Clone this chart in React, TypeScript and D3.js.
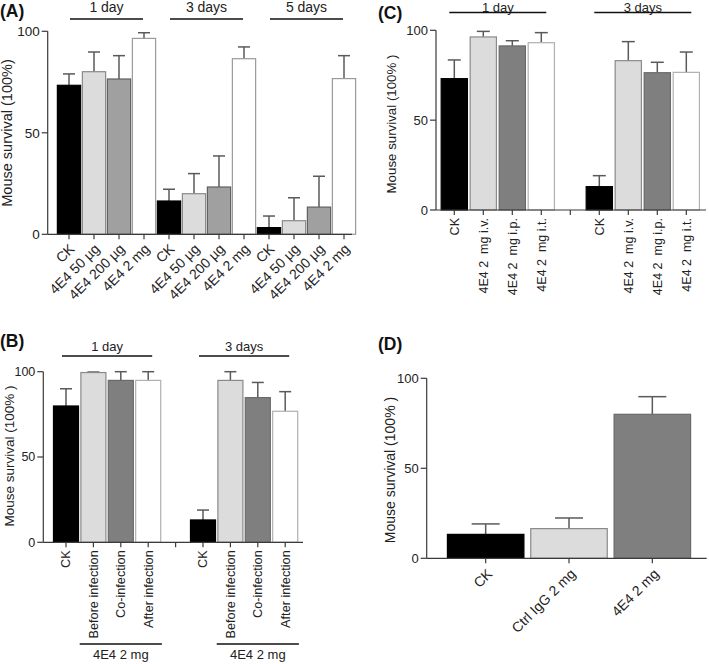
import React from "react";
import * as d3 from "d3";

// ---------- DATA ----------
const aCategories = ["CK", "4E4 50 µg", "4E4 200 µg", "4E4 2 mg", "CK", "4E4 50 µg", "4E4 200 µg", "4E4 2 mg", "CK", "4E4 50 µg", "4E4 200 µg", "4E4 2 mg"];
const aValues = [73.4, 80.1, 76.5, 96.5, 16.4, 20.0, 23.3, 86.5, 3.3, 6.7, 13.4, 76.7];
const aErrors = [5.6, 9.7, 11.5, 2.8, 5.8, 9.9, 15.3, 5.8, 5.7, 11.3, 15.2, 11.3];
const aGroups = ["1 day", "3 days", "5 days"];

const bCategories = ["CK", "Before infection", "Co-infection", "After infection", "", "CK", "Before infection", "Co-infection", "After infection"];
const bValues = [79.9, 99.5, 94.9, 94.9, null, 13.1, 94.9, 84.8, 76.8];
const bErrors = [10.1, 0.3, 5.1, 5.1, null, 5.8, 5.1, 8.9, 11.5];
const bGroups = ["1 day", "3 days"];
const bSubGroups = ["4E4 2 mg", "4E4 2 mg"];

const cCategories = ["CK", "4E4 2  mg i.v.", "4E4 2  mg i.p.", "4E4 2  mg i.t.", "", "CK", "4E4 2  mg i.v.", "4E4 2  mg i.p.", "4E4 2  mg i.t."];
const cValues = [73.1, 96.3, 91.3, 93.1, null, 13.0, 83.1, 76.4, 76.6];
const cErrors = [10.4, 3.1, 2.9, 5.6, null, 6.1, 10.6, 5.8, 11.3];
const cGroups = ["1 day", "3 days"];

const dCategories = ["CK", "Ctrl IgG 2 mg", "4E4 2 mg"];
const dValues = [13.3, 16.5, 80.0];
const dErrors = [5.8, 5.9, 9.8];

const yTicks = [0, 50, 100];

// ---------- STYLES ----------
const FONT = "Liberation Sans, Arial, Helvetica, sans-serif";
const AXIS = "#3a3a3a";
const ERR = "#5a5a5a";
const styleA = [
  { fill: "#000000", stroke: "#000000" },
  { fill: "#dcdcdc", stroke: "#8a8a8a" },
  { fill: "#a0a0a0", stroke: "#606060" },
  { fill: "#ffffff", stroke: "#9a9a9a" },
];
const styleB = [
  { fill: "#000000", stroke: "#000000" },
  { fill: "#dcdcdc", stroke: "#8a8a8a" },
  { fill: "#7f7f7f", stroke: "#6a6a6a" },
  { fill: "#ffffff", stroke: "#b0b0b0" },
];

type Group = { label: string; from: number; to: number; lineY: number; textY: number };
type PanelProps = {
  letter: string;
  letterX: number;
  letterY: number;
  categories: string[];
  values: (number | null)[];
  errors: (number | null)[];
  styles: { fill: string; stroke: string }[];
  styleIndex: (i: number) => number;
  axisX: number;
  axisRight: number;
  xRange: [number, number];
  yRange: [number, number];
  barFrac: number;
  capW: number;
  labelRot: number;
  labelDx: number;
  labelDy: number;
  labelSize: number;
  tickSize: number;
  titleSize: number;
  groupSize: number;
  yLabel: string;
  yLabelX: number;
  yLabelY: number;
  groups?: Group[];
  subGroups?: Group[];
  groupShift?: number;
};

function Panel(p: PanelProps) {
  const x = d3
    .scaleBand<number>()
    .domain(p.categories.map((_, i) => i))
    .range(p.xRange)
    .paddingInner(0)
    .paddingOuter(0);
  const y = d3.scaleLinear().domain([0, 100]).range(p.yRange);
  const bw = x.bandwidth() * p.barFrac;
  const y0 = y(0);
  return (
    <g fontFamily={FONT}>
      <text x={p.letterX} y={p.letterY} fontSize={17.5} fontWeight="bold" fill="#111">
        {p.letter}
      </text>
      <text
        transform={`translate(${p.yLabelX},${p.yLabelY}) rotate(-90)`}
        textAnchor="middle"
        dy="0.35em"
        fontSize={p.titleSize}
        fill="#222"
        style={{ whiteSpace: "pre" }}
      >
        {p.yLabel}
      </text>
      {p.values.map((v, i) => {
        if (v === null) return null;
        const cx = (x(i) as number) + x.bandwidth() / 2;
        const st = p.styles[p.styleIndex(i)];
        const e = p.errors[i] as number;
        const top = y(v + e);
        return (
          <g key={"b" + i}>
            <line x1={cx} x2={cx} y1={y(v)} y2={top} stroke={ERR} strokeWidth={1.5} />
            <line x1={cx - p.capW / 2} x2={cx + p.capW / 2} y1={top} y2={top} stroke={ERR} strokeWidth={1.5} />
            <rect
              x={cx - bw / 2 + 0.5}
              y={y(v)}
              width={bw - 1}
              height={y0 - y(v)}
              fill={st.fill}
              stroke={st.stroke}
              strokeWidth={1.2}
            />
          </g>
        );
      })}
      <line x1={p.axisX} x2={p.axisX} y1={y0} y2={y(100)} stroke={AXIS} strokeWidth={1.2} />
      <line x1={p.axisX} x2={p.axisRight} y1={y0} y2={y0} stroke={AXIS} strokeWidth={1.2} />
      {yTicks.map((t) => (
        <g key={"yt" + t}>
          <line x1={p.axisX - 6} x2={p.axisX} y1={y(t)} y2={y(t)} stroke={AXIS} strokeWidth={1.2} />
          <text x={p.axisX - 8} y={y(t)} dy="0.35em" textAnchor="end" fontSize={p.tickSize} fill="#222">
            {t}
          </text>
        </g>
      ))}
      {p.categories.map((c, i) => {
        const cx = (x(i) as number) + x.bandwidth() / 2;
        return (
          <g key={"xt" + i}>
            <line x1={cx} x2={cx} y1={y0} y2={y0 + 5} stroke={AXIS} strokeWidth={1.2} />
            {c !== "" && (
              <text
                transform={`translate(${cx + p.labelDx},${y0 + p.labelDy}) rotate(${p.labelRot})`}
                textAnchor="end"
                dy="0.35em"
                fontSize={p.labelSize}
                fill="#222"
                style={{ whiteSpace: "pre" }}
              >
                {c}
              </text>
            )}
          </g>
        );
      })}
      {(p.groups || []).map((g, gi) => {
        const x1 = (x(g.from) as number) + x.bandwidth() / 2 - (p.groupShift ?? 10);
        const x2 = (x(g.to) as number) + x.bandwidth() / 2 + (p.groupShift ?? 10);
        return (
          <g key={"g" + gi}>
            <line x1={x1} x2={x2} y1={g.lineY} y2={g.lineY} stroke="#111" strokeWidth={1.5} />
            <text x={(x1 + x2) / 2} y={g.textY} textAnchor="middle" fontSize={p.groupSize} fill="#222">
              {g.label}
            </text>
          </g>
        );
      })}
      {(p.subGroups || []).map((g, gi) => {
        const x1 = x(g.from) as number;
        const x2 = (x(g.to) as number) + x.bandwidth();
        return (
          <g key={"s" + gi}>
            <line x1={x1} x2={x2} y1={g.lineY} y2={g.lineY} stroke="#111" strokeWidth={1.5} />
            <text x={(x1 + x2) / 2} y={g.textY} textAnchor="middle" fontSize={p.groupSize} fill="#222">
              {g.label}
            </text>
          </g>
        );
      })}
    </g>
  );
}

export default function App() {
  return (
    <svg width={709} height={664} style={{ position: "absolute", left: 0, top: 0, background: "#fff" }}>
      <rect width={709} height={664} fill="#fff" />
      <Panel
        letter="(A)"
        letterX={0}
        letterY={17}
        categories={aCategories}
        values={aValues}
        errors={aErrors}
        styles={styleA}
        styleIndex={(i) => i % 4}
        axisX={47.7}
        axisRight={352}
        xRange={[56.5, 356.5]}
        yRange={[234.3, 31.3]}
        barFrac={0.97}
        capW={12}
        labelRot={-45}
        labelDx={3}
        labelDy={12}
        labelSize={14}
        tickSize={13.5}
        titleSize={14.5}
        groupSize={14}
        yLabel="Mouse survival (100%)"
        yLabelX={7}
        yLabelY={133}
        groupShift={-1}
        groups={[
          { label: aGroups[0], from: 0, to: 3, lineY: 19, textY: 12 },
          { label: aGroups[1], from: 4, to: 7, lineY: 19, textY: 12 },
          { label: aGroups[2], from: 8, to: 11, lineY: 19, textY: 12 },
        ]}
      />
      <Panel
        letter="(B)"
        letterX={0}
        letterY={347}
        categories={bCategories}
        values={bValues}
        errors={bErrors}
        styles={styleB}
        styleIndex={(i) => (i < 4 ? i : i - 5)}
        axisX={43.3}
        axisRight={303}
        xRange={[52.3, 298.9]}
        yRange={[542.3, 371.7]}
        barFrac={0.95}
        capW={12}
        labelRot={-90}
        labelDx={0}
        labelDy={8}
        labelSize={12.7}
        tickSize={12.5}
        titleSize={13.5}
        groupSize={13}
        yLabel="Mouse survival (100% )"
        yLabelX={9}
        yLabelY={456}
        groupShift={4}
        groups={[
          { label: bGroups[0], from: 0, to: 3, lineY: 356, textY: 350.5 },
          { label: bGroups[1], from: 5, to: 8, lineY: 356, textY: 350.5 },
        ]}
        subGroups={[
          { label: bSubGroups[0], from: 1, to: 3, lineY: 644, textY: 658.5 },
          { label: bSubGroups[1], from: 6, to: 8, lineY: 644, textY: 658.5 },
        ]}
      />
      <Panel
        letter="(C)"
        letterX={378}
        letterY={18.5}
        categories={cCategories}
        values={cValues}
        errors={cErrors}
        styles={styleB}
        styleIndex={(i) => (i < 4 ? i : i - 5)}
        axisX={436}
        axisRight={706}
        xRange={[439.8, 700.8]}
        yRange={[210, 30.3]}
        barFrac={0.94}
        capW={13}
        labelRot={-90}
        labelDx={0}
        labelDy={8}
        labelSize={12.5}
        tickSize={13}
        titleSize={13.3}
        groupSize={13}
        yLabel="Mouse survival (100% )"
        yLabelX={391.5}
        yLabelY={124}
        groupShift={5}
        groups={[
          { label: cGroups[0], from: 0, to: 3, lineY: 12.5, textY: 11.5 },
          { label: cGroups[1], from: 5, to: 8, lineY: 12.5, textY: 11.5 },
        ]}
      />
      <Panel
        letter="(D)"
        letterX={378}
        letterY={350}
        categories={dCategories}
        values={dValues}
        errors={dErrors}
        styles={styleB}
        styleIndex={(i) => i}
        axisX={426.7}
        axisRight={706.7}
        xRange={[444, 694]}
        yRange={[558.3, 378.3]}
        barFrac={0.93}
        capW={28}
        labelRot={-45}
        labelDx={4}
        labelDy={13}
        labelSize={14}
        tickSize={13}
        titleSize={14}
        groupSize={13}
        yLabel="Mouse survival (100% )"
        yLabelX={390}
        yLabelY={470}
      />
    </svg>
  );
}
